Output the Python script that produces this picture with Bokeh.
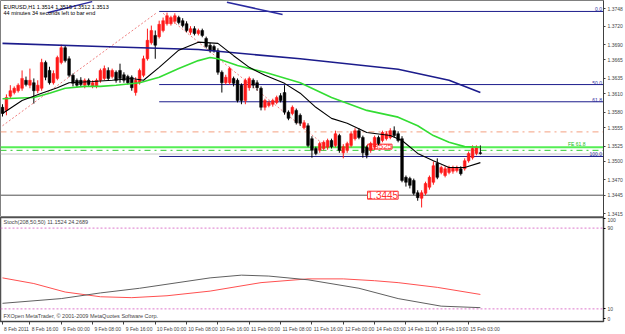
from bokeh.plotting import figure
from bokeh.layouts import column
from bokeh.models import Range1d, FixedTicker, Label, Span, CustomJSTickFormatter, ColumnDataSource
from bokeh.embed import file_html
from bokeh.resources import INLINE
from bokeh.core.properties import value

FONT = "Liberation Sans"

# ---------------- data ----------------
opens = [1.3588,1.3583,1.3606,1.3612,1.3615,1.3619,1.3632,1.3624,1.3628,1.3615,
         1.3619,1.3661,1.3648,1.3628,1.3635,1.3661,1.3685,1.3667,1.3640,1.3632,
         1.3632,1.3624,1.3632,1.3622,1.3622,1.3632,1.3635,1.3648,1.3638,1.3645,
         1.3648,1.3641,1.3638,1.3637,1.3612,1.3628,1.3640,1.3667,1.3693,1.3705,
         1.3703,1.3713,1.3724,1.3724,1.3728,1.3734,1.3729,1.3724,1.3710,1.3716,
         1.3708,1.3713,1.3700,1.3689,1.3687,1.3680,1.3645,1.3628,1.3628,1.3635,
         1.3632,1.3624,1.3599,1.3620,1.3632,1.3628,1.3619,1.3588,1.3591,1.3593,
         1.3596,1.3607,1.3612,1.3580,1.3578,1.3583,1.3575,1.3555,1.3558,1.3537,
         1.3521,1.3518,1.3521,1.3523,1.3534,1.3526,1.3542,1.3514,1.3518,1.3526,
         1.3537,1.3550,1.3539,1.3523,1.3518,1.3523,1.3539,1.3534,1.3537,1.3539,
         1.3550,1.3545,1.3537,1.3474,1.3472,1.3469,1.3449,1.3440,1.3448,1.3458,
         1.3466,1.3497,1.3482,1.3477,1.3482,1.3484,1.3485,1.3488,1.3488,1.3501,
         1.3506,1.3513,1.3514]
highs = [1.3593,1.3609,1.3624,1.3622,1.3627,1.3648,1.3638,1.3651,1.3635,1.3632,
         1.3667,1.3664,1.3654,1.3648,1.3672,1.3690,1.3689,1.3671,1.3643,1.3635,
         1.3637,1.3635,1.3635,1.3632,1.3635,1.3651,1.3656,1.3653,1.3651,1.3648,
         1.3659,1.3645,1.3641,1.3640,1.3637,1.3651,1.3672,1.3716,1.3721,1.3713,
         1.3729,1.3734,1.3742,1.3737,1.3741,1.3737,1.3733,1.3728,1.3720,1.3720,
         1.3716,1.3716,1.3703,1.3693,1.3690,1.3684,1.3648,1.3641,1.3654,1.3638,
         1.3635,1.3627,1.3635,1.3638,1.3635,1.3632,1.3622,1.3602,1.3599,1.3602,
         1.3607,1.3611,1.3624,1.3583,1.3591,1.3586,1.3578,1.3567,1.3562,1.3541,
         1.3524,1.3532,1.3534,1.3537,1.3537,1.3550,1.3545,1.3528,1.3532,1.3549,
         1.3554,1.3554,1.3542,1.3526,1.3532,1.3542,1.3542,1.3550,1.3549,1.3554,
         1.3557,1.3549,1.3541,1.3477,1.3475,1.3472,1.3453,1.3453,1.3467,1.3477,
         1.3500,1.3505,1.3493,1.3492,1.3493,1.3493,1.3493,1.3492,1.3505,1.3516,
         1.3526,1.3526,1.3526]
lows = [1.3573,1.3575,1.3602,1.3609,1.3612,1.3615,1.3622,1.3619,1.3594,1.3611,
        1.3615,1.3632,1.3625,1.3625,1.3632,1.3658,1.3661,1.3637,1.3622,1.3620,
        1.3622,1.3619,1.3622,1.3619,1.3619,1.3628,1.3632,1.3632,1.3635,1.3628,
        1.3628,1.3628,1.3625,1.3615,1.3607,1.3625,1.3637,1.3664,1.3690,1.3667,
        1.3700,1.3710,1.3721,1.3721,1.3724,1.3723,1.3718,1.3710,1.3706,1.3705,
        1.3705,1.3702,1.3684,1.3677,1.3677,1.3641,1.3612,1.3625,1.3625,1.3622,
        1.3596,1.3593,1.3593,1.3615,1.3619,1.3615,1.3583,1.3583,1.3588,1.3589,
        1.3593,1.3596,1.3576,1.3567,1.3575,1.3560,1.3558,1.3552,1.3523,1.3506,
        1.3510,1.3514,1.3518,1.3519,1.3521,1.3523,1.3514,1.3505,1.3514,1.3523,
        1.3534,1.3536,1.3506,1.3505,1.3514,1.3519,1.3526,1.3531,1.3534,1.3536,
        1.3539,1.3531,1.3466,1.3459,1.3456,1.3445,1.3436,1.3425,1.3445,1.3454,
        1.3462,1.3471,1.3479,1.3474,1.3479,1.3480,1.3482,1.3477,1.3485,1.3498,
        1.3503,1.3510,1.3511]
closes = [1.3578,1.3604,1.3615,1.3619,1.3624,1.3635,1.3625,1.3632,1.3615,1.3624,
          1.3661,1.3637,1.3628,1.3643,1.3669,1.3685,1.3664,1.3640,1.3627,1.3624,
          1.3625,1.3632,1.3625,1.3628,1.3632,1.3648,1.3651,1.3635,1.3648,1.3632,
          1.3635,1.3632,1.3628,1.3620,1.3632,1.3648,1.3667,1.3697,1.3713,1.3689,
          1.3723,1.3729,1.3737,1.3734,1.3737,1.3726,1.3721,1.3713,1.3716,1.3708,
          1.3713,1.3705,1.3687,1.3680,1.3680,1.3645,1.3628,1.3637,1.3651,1.3627,
          1.3599,1.3599,1.3632,1.3635,1.3624,1.3620,1.3588,1.3599,1.3596,1.3599,
          1.3604,1.3599,1.3580,1.3570,1.3588,1.3563,1.3562,1.3563,1.3526,1.3518,
          1.3513,1.3529,1.3531,1.3534,1.3524,1.3545,1.3518,1.3524,1.3529,1.3545,
          1.3550,1.3539,1.3514,1.3510,1.3529,1.3539,1.3529,1.3547,1.3545,1.3550,
          1.3542,1.3534,1.3469,1.3466,1.3461,1.3448,1.3441,1.3449,1.3464,1.3474,
          1.3493,1.3474,1.3490,1.3488,1.3490,1.3490,1.3490,1.3480,1.3501,1.3513,
          1.3521,1.3523,1.3513]

black_ma_bar = [0,5,10,14,17,23,28,33,36,40,45,50,55,59,63,67,72,76,80,84,88,93,99,102,106,110,114,118,122]
black_ma = [1.3578,1.3599,1.3611,1.3620,1.3628,1.3630,1.3632,1.3635,1.3632,1.3653,1.3681,1.3694,1.3692,
            1.3672,1.3653,1.3640,1.3627,1.3611,1.3588,1.3570,1.3562,1.3547,1.3542,1.3534,1.3513,1.3501,
            1.3490,1.3490,1.3498]
green_ma_bar = [0,8,12,16,21,25,29,35,40,45,50,53,55,60,67,76,84,93,101,106,110,114,118,122]
green_ma = [1.3602,1.3604,1.3611,1.3619,1.3622,1.3622,1.3624,1.3628,1.3637,1.3651,1.3664,1.3669,1.3667,
            1.3656,1.3645,1.3628,1.3604,1.3583,1.3572,1.3558,1.3542,1.3531,1.3524,1.3523]
navy_ma_bar = [0,25,50,76,101,114,122]
navy_ma = [1.3692,1.3687,1.3682,1.3667,1.3650,1.3632,1.3612]

stoch_main_bar = [0,15,25,35,53,61,68,78,91,101,112,122]
stoch_main = [15.5,20.2,25.8,30.4,40.7,43.4,42.5,38.8,30.4,20.2,12.7,11.2]
stoch_sig_bar = [0,8,16,25,33,42,53,66,78,87,95,101,111,122]
stoch_sig = [40.7,35.1,26.7,22.0,21.1,23.0,27.6,36.0,39.7,39.7,37.9,36.0,31.3,24.3]

time_tick_bars = [0,7,15,23,31,39,47,55,63,71,79,87,95,103,111,119]
time_labels = ["8 Feb 2011","8 Feb 16:00","9 Feb 00:00","9 Feb 08:00","9 Feb 16:00",
               "10 Feb 00:00","10 Feb 08:00","10 Feb 16:00","11 Feb 00:00","11 Feb 08:00",
               "11 Feb 16:00","12 Feb 00:00","14 Feb 03:00","14 Feb 11:00","14 Feb 19:00",
               "15 Feb 03:00"]
price_ticks = [1.3748,1.3720,1.3690,1.3665,1.3635,1.3610,1.3580,1.3555,1.3525,1.3500,1.3470,1.3445,1.3415]
stoch_ticks = [0,10,90,100]

fib_start_bar = 40
fib_levels = [1.3744,1.3625,1.3597,1.3508]
fib_names = ["0.0","50.0","61.8","100.0"]
fe_level = 1.3523
pivot_level = 1.3548
green_dash_level = 1.3518
bid = 1.3512
support_level = 1.3445
exp_bar = [0,39.4,41,81.7]
exp_price = [1.3558,1.3742,1.3741,1.3529]
tl1_bar = [11.5,22.9]
tl1_price = [1.3742,1.3760]
tl2_bar = [57.3,71.5]
tl2_price = [1.3759,1.3739]

# ---------------- layout ----------------
PX_PER_BAR = 3.93
FRAME_W = 605
x0 = -2 / PX_PER_BAR
xr = Range1d(x0, x0 + FRAME_W / PX_PER_BAR)

MAIN_H = 217
p = figure(width=625, height=MAIN_H, x_range=xr, y_range=Range1d(1.34087, 1.37618),
           output_backend="svg", toolbar_location=None, x_axis_location=None,
           y_axis_location="right", min_border_left=0, min_border_right=20,
           min_border_top=0, min_border_bottom=0)
p.grid.visible = False
p.outline_line_color = "#808080"
p.background_fill_color = "white"
p.border_fill_color = "white"
ya = p.yaxis[0]
ya.ticker = FixedTicker(ticks=price_ticks)
ya.formatter = CustomJSTickFormatter(code="return tick.toFixed(4);")
ya.major_label_text_font = FONT
ya.major_label_text_font_size = "5px"
ya.major_label_standoff = 2
ya.major_tick_out = 2
ya.major_tick_in = 0
ya.minor_tick_out = 0
ya.axis_line_color = "#404040"
ya.major_tick_line_color = "#404040"

# horizontal objects
for lev, col, dash, w in [(pivot_level, "#f4a080", "dashdot", 1),
                          (green_dash_level, "#33cc33", "dashdot", 1),
                          (bid, "#c8c8c8", "solid", 1),
                          (support_level, "#505050", "solid", 1)]:
    p.add_layout(Span(location=lev, dimension="width", line_color=col, line_dash=dash,
                      line_width=w, level="underlay"))
p.add_layout(Span(location=fe_level, dimension="width", line_color="#55ee55",
                  line_width=2, level="underlay"))
xend = xr.end + 5
p.segment(x0=[fib_start_bar] * 4, y0=fib_levels, x1=[xend] * 4, y1=fib_levels,
          line_color="#1c1c8c", line_width=1)
p.line(exp_bar[:2], exp_price[:2], line_color="#f08080", line_dash="2 2", line_width=1)
p.line(exp_bar[2:], exp_price[2:], line_color="#f08080", line_dash="2 2", line_width=1)
p.line(tl1_bar, tl1_price, line_color="#2a2aa0", line_width=1.5)
p.line(tl2_bar, tl2_price, line_color="#2a2aa0", line_width=1.5)

# boxed labels (behind candles)
p.add_layout(Label(x=93.2, y=1.3524, text="1.3525", text_color="#ff3030", text_font=FONT,
                   text_font_size="8px", text_baseline="middle", border_line_color="#ff3030",
                   background_fill_color="white", level="underlay"))
p.add_layout(Label(x=93.2, y=support_level, text="1.3445", text_color="#ff3030", text_font=FONT,
                   text_font_size="10px", text_baseline="middle", border_line_color="#ff3030",
                   background_fill_color="white"))

# candles
n = len(opens)
bars = list(range(n))
cols = ["#ff1a1a" if c >= o else "#000000" for o, c in zip(opens, closes)]
src = ColumnDataSource(dict(x=bars, h=highs, l=lows,
                            top=[max(o, c) for o, c in zip(opens, closes)],
                            bot=[min(o, c) for o, c in zip(opens, closes)], col=cols))
p.segment(x0="x", y0="h", x1="x", y1="l", line_color="col", line_width=1, source=src)
p.vbar(x="x", width=0.7, top="top", bottom="bot", fill_color="col", line_color="col",
       line_width=0.5, source=src)

# moving averages
p.line(navy_ma_bar, navy_ma, line_color="#1c1c8c", line_width=1.6)
p.line(green_ma_bar, green_ma, line_color="#33dd33", line_width=1.6)
p.line(black_ma_bar, black_ma, line_color="#000000", line_width=1.1)

# fib texts
for lev, nm in zip(fib_levels, fib_names):
    p.text(x=[xr.end - 0.4], y=[lev], text=[nm], text_align="right", text_baseline="bottom",
           text_color="#3030a0", text_font=value(FONT), text_font_size="5px")
p.text(x=[xr.end - 4.6], y=[fe_level], text=["FE 61.8"], text_align="right", text_baseline="bottom",
       text_color="#22bb22", text_font=value(FONT), text_font_size="5px")

p.add_layout(Label(x=3, y=MAIN_H - 6, x_units="screen", y_units="screen",
                   text="EURUSD,H1  1.3514 1.3515 1.3512 1.3513", text_font=FONT,
                   text_font_size="5.5px", text_baseline="middle", text_color="black"))
p.add_layout(Label(x=3, y=MAIN_H - 12, x_units="screen", y_units="screen",
                   text="44 minutes 34 seconds left to bar end", text_font=FONT,
                   text_font_size="5.5px", text_baseline="middle", text_color="black"))
for lev, txt in [(bid, "1.3512"), (support_level, "1.3445")]:
    p.add_layout(Label(x=FRAME_W + 2, y=lev, x_units="screen", text=txt, text_font=FONT,
                       text_font_size="5px", text_baseline="middle", text_color="white",
                       background_fill_color="black"))

# ---------------- indicator ----------------
IND_H = 117
q = figure(width=625, height=IND_H, x_range=xr, y_range=Range1d(-2.5, 100.5),
           output_backend="svg", toolbar_location=None, y_axis_location="right",
           min_border_left=0, min_border_right=20, min_border_top=0, min_border_bottom=0)
q.grid.visible = False
q.outline_line_color = "#505050"
q.outline_line_width = 1.5
qa = q.yaxis[0]
qa.ticker = FixedTicker(ticks=stoch_ticks)
qa.major_label_text_font = FONT
qa.major_label_text_font_size = "5px"
qa.major_label_standoff = 2
qa.major_tick_out = 2
qa.major_tick_in = 0
qa.minor_tick_out = 0
qa.axis_line_color = "#404040"

centers = [t + (2 + 1.2 * len(s)) / PX_PER_BAR for t, s in zip(time_tick_bars, time_labels)]
xa = q.xaxis[0]
xa.ticker = FixedTicker(ticks=centers, minor_ticks=time_tick_bars)
xa.formatter = CustomJSTickFormatter(args=dict(labels=time_labels), code="return labels[index];")
xa.major_label_text_font = FONT
xa.major_label_text_font_size = "5px"
xa.major_label_standoff = 1
xa.major_tick_out = 3
xa.major_tick_in = 0
xa.major_tick_line_alpha = 0
xa.minor_tick_out = 3
xa.minor_tick_in = 0
xa.minor_tick_line_color = "#404040"
xa.axis_line_color = "#404040"

for lev in [10, 90]:
    q.add_layout(Span(location=lev, dimension="width", line_color="#dd77cc",
                      line_dash="2 2", line_width=1))
q.line(stoch_sig_bar, stoch_sig, line_color="#ff5050", line_width=1)
q.line(stoch_main_bar, stoch_main, line_color="#606060", line_width=1)
q.add_layout(Label(x=3, y=96, text="Stoch(208,50,50) 11.1524 24.2689", x_units="screen",
                   text_font=FONT, text_font_size="5.5px", text_baseline="middle"))
q.add_layout(Label(x=3, y=6, x_units="screen", y_units="screen",
                   text="FXOpen MetaTrader, \u00a9 2001-2009 MetaQuotes Software Corp.",
                   text_font=FONT, text_font_size="5.5px", text_baseline="middle"))

lay = column(p, q, spacing=0)
open("out.html", "w").write(file_html(lay, INLINE))
